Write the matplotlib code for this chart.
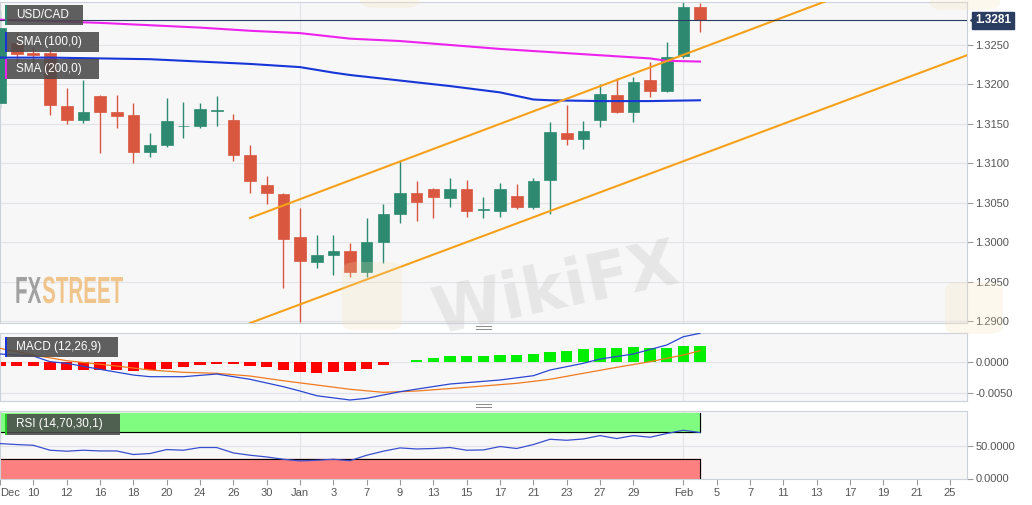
import matplotlib
matplotlib.use('Agg')
import matplotlib.pyplot as plt
from matplotlib.patches import Rectangle, PathPatch, FancyBboxPatch
from matplotlib.lines import Line2D
from matplotlib.textpath import TextPath
from matplotlib.font_manager import FontProperties
from matplotlib.transforms import Affine2D
import numpy as np

plt.rcParams['font.family'] = ['Liberation Sans', 'DejaVu Sans']

# daily candles, bar index -3 .. 39
bars = list(range(-3, 40))
opens = [1.3177, 1.3253, 1.3240, 1.3240, 1.3173, 1.3155, 1.3185, 1.3165, 1.3161, 1.3115,
         1.3123, 1.3147, 1.3147, 1.3167, 1.3155, 1.3111, 1.3073, 1.3061, 1.3007, 1.2975,
         1.2984, 1.2989, 1.2963, 1.3001, 1.3036, 1.3063, 1.3068, 1.3056, 1.3068, 1.3041,
         1.3040, 1.3059, 1.3045, 1.3079, 1.3139, 1.3131, 1.3155, 1.3187, 1.3165, 1.3206,
         1.3192, 1.3236, 1.3298]
highs = [1.3294, 1.3265, 1.3247, 1.3244, 1.3196, 1.3206, 1.3187, 1.3187, 1.3177, 1.3139,
         1.3183, 1.3178, 1.3177, 1.3185, 1.3163, 1.3123, 1.3084, 1.3063, 1.3044, 1.3009,
         1.3009, 1.2999, 1.3031, 1.3049, 1.3104, 1.3078, 1.3069, 1.3082, 1.3079, 1.3058,
         1.3075, 1.3074, 1.3082, 1.3153, 1.3174, 1.3154, 1.3201, 1.3208, 1.3209, 1.3228,
         1.3254, 1.3304, 1.3303]
lows = [1.3170, 1.3227, 1.3227, 1.3161, 1.3150, 1.3151, 1.3113, 1.3145, 1.3101, 1.3108,
        1.3121, 1.3132, 1.3145, 1.3147, 1.3103, 1.3063, 1.3049, 1.2942, 1.2899, 1.2968,
        1.2959, 1.2956, 1.2956, 1.2974, 1.3025, 1.3027, 1.3031, 1.3045, 1.3032, 1.3031,
        1.3032, 1.3042, 1.3042, 1.3036, 1.3123, 1.3118, 1.3146, 1.3164, 1.3153, 1.3184,
        1.3190, 1.3234, 1.3266]
closes = [1.3272, 1.3239, 1.3237, 1.3174, 1.3155, 1.3165, 1.3165, 1.3160, 1.3115, 1.3123,
          1.3154, 1.3148, 1.3169, 1.3168, 1.3111, 1.3078, 1.3063, 1.3004, 1.2977, 1.2984,
          1.2989, 1.2963, 1.3001, 1.3036, 1.3063, 1.3051, 1.3058, 1.3068, 1.3040, 1.3042,
          1.3068, 1.3045, 1.3078, 1.3140, 1.3131, 1.3141, 1.3188, 1.3165, 1.3203, 1.3192,
          1.3235, 1.3298, 1.3281]

# moving averages (read at sample bars)
sma100_x = [-3, 0, 3, 6, 9, 12, 15, 17, 18, 21, 24, 27, 29, 30, 33, 36, 39]
sma100_y = [1.3234, 1.3234, 1.3233, 1.3232, 1.3229, 1.3226, 1.3222, 1.3215, 1.3212, 1.3205,
            1.3198, 1.3190, 1.3181, 1.3180, 1.3179, 1.3179, 1.3180]
sma200_x = [-3, 0, 3, 6, 9, 12, 15, 18, 21, 24, 27, 30, 33, 36, 37, 39]
sma200_y = [1.3282, 1.3280, 1.3278, 1.3275, 1.3272, 1.3268, 1.3265, 1.3258, 1.3255, 1.3250,
            1.3245, 1.3241, 1.3237, 1.3233, 1.3230, 1.3229]

# channel lines
upper_x = [12, 47]
upper_y = [1.3031, 1.3309]
lower_x = [12, 55.02]
lower_y = [1.2898, 1.3237]

# MACD
macd_hist = [-0.00065, -0.00065, -0.00076, -0.00134, -0.00134, -0.00134, -0.00134, -0.00134,
             -0.00145, -0.00134, -0.00118, -0.00092, -0.00053, -0.00037, -0.00048, -0.00076,
             -0.00092, -0.00134, -0.00173, -0.00189, -0.00173, -0.00161, -0.00118, -0.00060,
             -0.00003, 0.00032, 0.00060, 0.00085, 0.00085, 0.00085, 0.00108, 0.00102,
             0.00118, 0.00161, 0.00177, 0.00194, 0.00221, 0.00215, 0.00231, 0.00221,
             0.00226, 0.00258, 0.00253]
macd_x = [-3, -1, 0, 1, 3, 5, 6, 8, 10, 12, 14, 15, 16, 18, 19, 21, 24, 27, 29, 30,
          32, 33, 35, 37, 38, 39]
macd_y = [0.00121, 0.00089, -0.00003, -0.00029, -0.00126, -0.00218, -0.00245, -0.00245,
          -0.00202, -0.00287, -0.00406, -0.00476, -0.00552, -0.00621, -0.00594, -0.00487,
          -0.00363, -0.00298, -0.00229, -0.00137, -0.00029, 0.00040, 0.00121, 0.00266,
          0.00400, 0.00455]
signal_x = [-3, -1, 1, 4, 6, 8, 10, 12, 14, 16, 18, 20, 22, 25, 28, 30, 32, 34, 36, 38, 39]
signal_y = [0.00213, 0.00105, 0.00013, -0.00073, -0.00137, -0.00174, -0.00190, -0.00234,
            -0.00310, -0.00379, -0.00448, -0.00497, -0.00476, -0.00416, -0.00352, -0.00287,
            -0.00190, -0.00094, -0.00003, 0.00105, 0.00174]

# RSI
rsi = [53.0, 51.5, 50.4, 42.9, 41.4, 42.9, 41.8, 41.8, 36.4, 37.9, 43.9, 42.9, 47.0, 47.0,
       38.8, 35.3, 32.7, 29.2, 26.7, 27.7, 29.2, 27.0, 35.3, 41.4, 46.4, 44.8, 45.5, 47.0,
       42.9, 43.3, 48.5, 45.5, 51.5, 59.5, 58.0, 60.0, 65.1, 60.6, 65.1, 62.6, 68.2, 73.2, 69.7]

tick_pos = [-3, -1, 1, 3, 5, 7, 9, 11, 13, 15, 17, 19, 21, 23, 25, 27, 29, 31, 33, 35,
            38, 40, 42, 44, 46, 48, 50, 52, 54]
tick_lab = ['Dec', '10', '12', '16', '18', '20', '24', '26', '30', 'Jan', '3', '7', '9',
            '13', '15', '17', '21', '23', '27', '29', 'Feb', '5', '7', '11', '13', '17',
            '19', '21', '25']
month_pos = [15, 38]

GREEN = '#2d8a70'
RED = '#d9573f'
NAVY = '#2a3c60'
BG = '#f7f7f8'
GRID = '#e4e4e6'
SPINE = '#cdd1da'

W, H = 1032, 505
fig = plt.figure(figsize=(W / 100, H / 100), dpi=100)
fig.patch.set_facecolor('white')


def px_rect(x0, y0, x1, y1):
    return [x0 / W, 1 - y1 / H, (x1 - x0) / W, (y1 - y0) / H]


ax = fig.add_axes(px_rect(0, 2, 967, 323))
axm = fig.add_axes(px_rect(0, 333, 967, 401), sharex=ax)
axr = fig.add_axes(px_rect(0, 411, 967, 478.5), sharex=ax)

for a in (ax, axm, axr):
    a.set_facecolor(BG)
    for s in a.spines.values():
        s.set_color(SPINE)
    a.yaxis.tick_right()
    a.tick_params(axis='y', length=4, color='#9a9a9a', labelsize=8, labelcolor='#555555', pad=2)
    a.tick_params(axis='x', length=0, labelbottom=False)
    a.grid(axis='y', color=GRID, lw=0.8)
    a.set_axisbelow(True)
    for m in month_pos:
        a.axvline(m, color=GRID, lw=0.8, zorder=0)

ax.set_xlim(-3, 55.02)

# candles
o = np.array(opens); c = np.array(closes)
cols = [GREEN if cc >= oo else RED for oo, cc in zip(opens, closes)]
ax.vlines(bars, lows, highs, colors=cols, lw=1, zorder=2)
ax.bar(bars, np.maximum(np.abs(c - o), 0.00004), bottom=np.minimum(o, c), width=0.7,
       color=cols, edgecolor=cols, lw=0.5, zorder=3)

ax.plot(sma200_x, sma200_y, color='#ee22ee', lw=1.5, zorder=4)
ax.plot(sma100_x, sma100_y, color='#1836d8', lw=1.5, zorder=4)
ax.plot(upper_x, upper_y, color='#f7a11a', lw=1.5, zorder=4)
ax.plot(lower_x, lower_y, color='#f7a11a', lw=1.5, zorder=4)

last = closes[-1]
ax.axhline(last, color=NAVY, lw=0.8, zorder=4)
ax.set_ylim(1.28981, 1.33044)
ax.set_yticks([1.2900, 1.2950, 1.3000, 1.3050, 1.3100, 1.3150, 1.3200, 1.3250])
ax.yaxis.set_major_formatter(matplotlib.ticker.FormatStrFormatter('%.4f'))
ax.annotate(f'{last:.4f}', xy=(1, last), xycoords=ax.get_yaxis_transform(),
            xytext=(8, 0), textcoords='offset pixels', ha='left', va='center',
            color='white', fontsize=8.5, fontweight='bold', annotation_clip=False,
            bbox=dict(boxstyle='square,pad=0.22', fc=NAVY, ec=NAVY))
ax.plot([1.006], [last], marker='<', ms=5, color=NAVY, transform=ax.get_yaxis_transform(),
        clip_on=False)

# MACD
hcols = ['#00ee00' if v >= 0 else '#ff0000' for v in macd_hist]
axm.bar(bars, macd_hist, width=0.68, color=hcols, zorder=2)
axm.plot(signal_x, signal_y, color='#f07a1e', lw=0.9, zorder=3)
axm.plot(macd_x, macd_y, color='#2a46d2', lw=0.9, zorder=3)
axm.set_ylim(-0.00637, 0.0046)
axm.set_yticks([-0.005, 0.0])
axm.yaxis.set_major_formatter(matplotlib.ticker.FormatStrFormatter('%.4f'))

# RSI
x0, x1 = bars[0], bars[-1]
axr.fill_between([x0, x1], 70, 100, color='#80fc80', zorder=1)
axr.fill_between([x0, x1], 0, 30, color='#fd8080', zorder=1)
axr.plot([x0, x1], [70, 70], color='black', lw=0.8, zorder=2)
axr.plot([x0, x1], [30, 30], color='black', lw=0.8, zorder=2)
axr.plot([x1, x1], [70, 100], color='black', lw=0.8, zorder=2)
axr.plot([x1, x1], [0, 30], color='black', lw=0.8, zorder=2)
axr.plot(bars, rsi, color='#3a4fcf', lw=0.9, zorder=3)
axr.set_ylim(0, 102.4)
axr.set_yticks([0, 50])
axr.yaxis.set_major_formatter(matplotlib.ticker.FormatStrFormatter('%.4f'))
axr.set_xticks(tick_pos)
axr.set_xticklabels(tick_lab)
axr.tick_params(axis='x', length=4, color='#9a9a9a', labelbottom=True, labelsize=8,
                labelcolor='#555555', pad=3)
axr.get_xticklabels()[0].set_ha('left')


# legend boxes
def fig_box(x0, y0, x1, y1, **kw):
    fig.add_artist(Rectangle((x0 / W, 1 - y1 / H), (x1 - x0) / W, (y1 - y0) / H,
                             transform=fig.transFigure, **kw))


labels = [('USD/CAD', 5, 25, 83, GREEN), ('SMA (100,0)', 32, 52, 99, '#1836d8'),
          ('SMA (200,0)', 59, 79, 99, '#ee22ee'), ('MACD (12,26,9)', 337, 357, 118, '#1836d8'),
          ('RSI (14,70,30,1)', 414, 435, 120, '#22cc22')]
for txt, y0, y1, xr, mc in labels:
    fig_box(5, y0, xr, y1, fc='#4a4a4a', ec='none', alpha=0.88, zorder=10)
    fig_box(5, y0, 7, y1, fc=mc, ec='none', zorder=11)
    fig.text(16 / W, 1 - (y0 + y1) / 2 / H, txt, color='white', fontsize=8.5,
             va='center', ha='left', zorder=12)

# pane handles
for yy in (326, 328.5, 404, 406.5):
    fig.add_artist(Line2D([476 / W, 491 / W], [1 - yy / H] * 2, transform=fig.transFigure,
                          color='#8a8a8a', lw=0.7))

# faint logo marks
for (lx0, ly0, lx1, ly1) in [(342, 262, 402, 330), (945, 282, 1003, 334), (360, -20, 420, 8),
                             (930, -20, 1000, 10)]:
    fig.add_artist(FancyBboxPatch((lx0 / W, 1 - ly1 / H), (lx1 - lx0) / W, (ly1 - ly0) / H,
                                  boxstyle='round,pad=0,rounding_size=0.015',
                                  transform=fig.transFigure, fc='#f3e2b0', ec='none',
                                  alpha=0.22, zorder=5))

# FXSTREET watermark, squeezed to its box
fp = FontProperties(family='Liberation Sans', weight='bold')
tp_fx = TextPath((0, 0), 'FX', size=40, prop=fp)
adv = tp_fx.get_extents().x1 + 2
tp_st = TextPath((adv, 0), 'STREET', size=40, prop=fp)
cap = tp_fx.get_extents().y1
total = tp_st.get_extents().x1
tr = Affine2D().scale(108 / total, 26 / cap).translate(15, H - 303)
fig.add_artist(PathPatch(tp_fx, transform=tr, fc='#8c8c8c', ec='none', alpha=0.8, zorder=6))
fig.add_artist(PathPatch(tp_st, transform=tr, fc='#f0c080', ec='none', alpha=0.9, zorder=6))

fig.text(555 / W, 1 - 290 / H, 'WikiFX', color='#c8c8c8', alpha=0.35, fontsize=46,
         fontweight='bold', family='DejaVu Sans', rotation=12, ha='center', va='center')

fig.savefig('out.png', dpi=100)
